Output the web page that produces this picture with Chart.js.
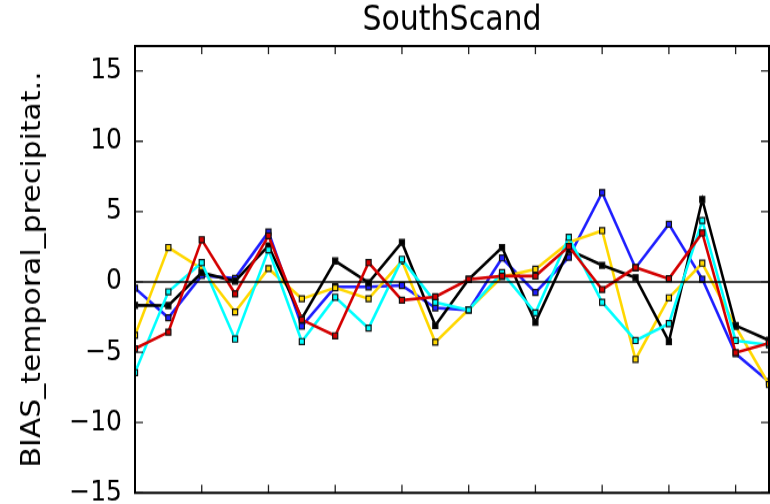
<!DOCTYPE html>
<html>
<head>
<meta charset="utf-8">
<script src="https://cdn.jsdelivr.net/npm/chart.js@4"></script>
<style>
  html, body { margin: 0; padding: 0; background: #fff; }
</style>
</head>
<body>
<!-- drawn 770x438 and shown a bit taller, like the stretched figure -->
<canvas id="chart1" width="770" height="438" style="display:block;width:770px;height:504px"></canvas>
<script>
const steps = [0, 1, 2, 3, 4, 5, 6, 7, 8, 9, 10, 11, 12, 13, 14, 15, 16, 17, 18, 19];
const xTicks = [2, 4, 6, 8, 10, 12, 14, 16, 18];
const yTicks = [-15, -10, -5, 0, 5, 10, 15];

const blueRun = [-0.45, -2.55, 0.45, 0.25, 3.55, -3.15, -0.35, -0.35, -0.25, -1.85, -2.0, 1.7, -0.75, 1.75, 6.35, 1.0, 4.1, 0.2, -5.1, -7.1];
const blackRun = [-1.67, -1.68, 0.66, 0.06, 2.57, -2.6, 1.49, -0.06, 2.81, -3.1, 0.18, 2.45, -2.88, 2.28, 1.18, 0.3, -4.24, 5.86, -3.1, -4.15];
const redRun = [-4.75, -3.57, 3.0, -0.85, 3.28, -2.69, -3.83, 1.37, -1.3, -1.06, 0.18, 0.42, 0.42, 2.52, -0.54, 1.02, 0.23, 3.48, -5.03, -4.36];
const cyanRun = [-6.45, -0.7, 1.37, -4.07, 2.28, -4.24, -1.09, -3.29, 1.61, -1.45, -2.0, 0.66, -2.2, 3.17, -1.45, -4.17, -2.97, 4.36, -4.17, -4.48];
const yellowRun = [-3.8, 2.45, 0.94, -2.14, 0.95, -1.2, -0.42, -1.2, 1.49, -4.29, -1.97, 0.37, 0.9, 2.81, 3.64, -5.51, -1.13, 1.33, -3.17, -7.3];

const pts = arr => arr.map((v, i) => ({x: steps[i], y: v}));

const series = (values, color, order) => ({
    data: pts(values),
    borderColor: color,
    backgroundColor: color,
    borderWidth: 2.6,
    pointStyle: 'rect',
    pointRadius: 3.6,
    pointBorderWidth: 1.2,
    pointBorderColor: '#111',
    pointBackgroundColor: color,
    tension: 0,
    order: order
});

// frame, zero line and inward ticks on all four sides
const frame = {
    id: 'frame',
    afterDatasetsDraw(chart) {
        const {ctx, chartArea: a, scales: {x, y}} = chart;
        ctx.save();
        ctx.strokeStyle = '#000';
        ctx.lineWidth = 1.6;
        const y0 = y.getPixelForValue(0);
        ctx.beginPath();
        ctx.moveTo(a.left, y0);
        ctx.lineTo(a.right, y0);
        ctx.stroke();

        ctx.lineWidth = 1.3;
        ctx.strokeStyle = '#222';
        ctx.beginPath();
        xTicks.forEach(v => {
            const px = x.getPixelForValue(v);
            ctx.moveTo(px, a.bottom); ctx.lineTo(px, a.bottom - 7);
            ctx.moveTo(px, a.top); ctx.lineTo(px, a.top + 7);
        });
        yTicks.forEach(v => {
            const py = y.getPixelForValue(v);
            ctx.moveTo(a.left, py); ctx.lineTo(a.left + 8, py);
            ctx.moveTo(a.right, py); ctx.lineTo(a.right - 8, py);
        });
        ctx.stroke();

        ctx.strokeStyle = '#000';
        ctx.lineWidth = 2;
        ctx.strokeRect(a.left, a.top, a.right - a.left, a.bottom - a.top);
        ctx.restore();
    }
};

const config = {
    type: 'line',
    data: {
        datasets: [
            series(blueRun, '#1f1fff', 5),
            series(yellowRun, '#ffd700', 4),
            series(blackRun, '#000000', 3),
            series(cyanRun, '#00ffff', 2),
            series(redRun, '#d40000', 1)
        ]
    },
    plugins: [frame],
    options: {
        responsive: false,
        devicePixelRatio: 1,
        animation: false,
        layout: {
            autoPadding: false,
            padding: {left: 0, right: 1, top: 0, bottom: 0}
        },
        plugins: {
            legend: {display: false},
            tooltip: {enabled: false},
            title: {
                display: true,
                text: 'SouthScand',
                fullSize: false,
                color: '#000',
                font: {family: 'DejaVu Sans', size: 30, weight: 'normal'},
                padding: {top: 0, bottom: 4}
            }
        },
        scales: {
            x: {
                type: 'linear',
                min: 0,
                max: 19,
                grid: {display: false, drawTicks: false},
                border: {display: false},
                ticks: {display: false},
                afterFit: s => { s.height = 9.7; }
            },
            y: {
                type: 'linear',
                min: -15,
                max: 16.77,
                grid: {display: false, drawTicks: false},
                border: {display: false},
                afterBuildTicks: s => { s.ticks = yTicks.map(v => ({value: v})); },
                afterFit: s => {
                    s.width = 135;
                    s.paddingTop = 0;
                    s.paddingBottom = 0;
                },
                ticks: {
                    color: '#000',
                    padding: 13,
                    font: {family: 'DejaVu Sans', size: 25},
                    callback: v => v < 0 ? '\u2212' + Math.abs(v) : String(v)
                },
                title: {
                    display: true,
                    text: 'BIAS_temporal_precipitat..',
                    color: '#000',
                    font: {family: 'DejaVu Sans', size: 26},
                    padding: {top: 18, bottom: 0}
                }
            }
        }
    }
};

const ctx1 = document.getElementById('chart1').getContext('2d');
const chart1 = new Chart(ctx1, config);
</script>
</body>
</html>
